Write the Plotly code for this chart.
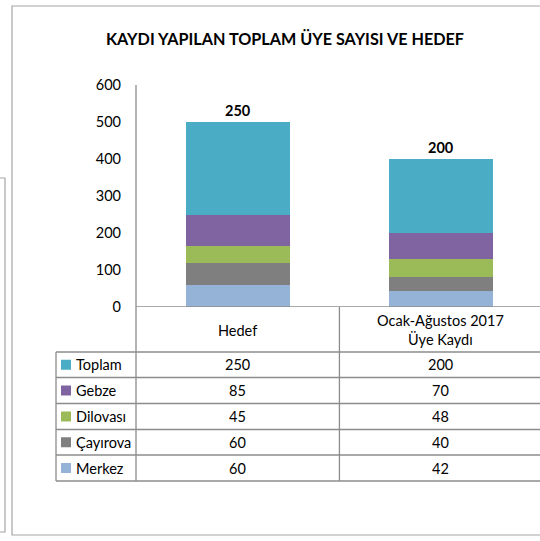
import plotly.graph_objects as go

categories = ["Hedef", "Ocak-Ağustos 2017 Üye Kaydı"]
category_labels = ["Hedef", "Ocak-Ağustos 2017<br>Üye Kaydı"]
series_names = ["Merkez", "Çayırova", "Dilovası", "Gebze", "Toplam"]
merkez = [60, 42]
cayirova = [60, 40]
dilovasi = [45, 48]
gebze = [85, 70]
toplam = [250, 200]
title_text = "KAYDI YAPILAN TOPLAM ÜYE SAYISI VE HEDEF"
y_ticks = [0, 100, 200, 300, 400, 500, 600]

series_values = [merkez, cayirova, dilovasi, gebze, toplam]
colors = ["#95B3D7", "#7F7F7F", "#9BBB59", "#8064A2", "#4BACC6"]

W, H = 540, 541
FONT = "Lato"
TXT = 14.5


def px(x):
    return x / W


def py(y):
    return 1 - y / H


fig = go.Figure()
for name, vals, col in zip(series_names, series_values, colors):
    is_top = name == "Toplam"
    fig.add_trace(go.Bar(
        x=categories, y=vals, name=name, marker=dict(color=col, line=dict(width=0)),
        width=0.51,
        text=vals if is_top else None,
        texttemplate="<b>%{y}</b>" if is_top else None,
        textposition="outside" if is_top else "none",
        textfont=dict(family=FONT, size=14.5, color="#000000"),
        cliponaxis=False,
        showlegend=False,
    ))

grid = "#8C8C8C"
frame = "#A6A6A6"
shapes = []
# outer frame of chart
shapes.append(dict(type="rect", xref="paper", yref="paper", x0=px(12), x1=px(560),
                   y0=py(535), y1=py(6), line=dict(color=frame, width=1.2)))
# frame of a chart behind
shapes.append(dict(type="path", xref="paper", yref="paper",
                   path=f"M {px(-5)} {py(178)} L {px(5)} {py(178)} L {px(5)} {py(532)} L {px(-5)} {py(532)}",
                   line=dict(color=frame, width=1.2)))

# table lines
row_lines = [352, 377.5, 403.5, 429.5, 455, 481]
for i, yl in enumerate(row_lines):
    shapes.append(dict(type="line", xref="paper", yref="paper", x0=px(56), x1=px(545),
                       y0=py(yl), y1=py(yl), line=dict(color=grid, width=1.3)))
# table left edge
shapes.append(dict(type="line", xref="paper", yref="paper", x0=px(56), x1=px(56),
                   y0=py(352), y1=py(481), line=dict(color=grid, width=1.3)))
# vertical line continuing the axis
shapes.append(dict(type="line", xref="paper", yref="paper", x0=px(136), x1=px(136),
                   y0=py(85), y1=py(481), line=dict(color=grid, width=1.3)))
# divider between categories
shapes.append(dict(type="line", xref="x", yref="paper", x0=0.5, x1=0.5,
                   y0=py(307), y1=py(481), line=dict(color=grid, width=1.3)))

annotations = []
annotations.append(dict(text=f"<b>{title_text}</b>", xref="paper", yref="paper",
                        x=px(285), y=py(38), showarrow=False,
                        font=dict(family=FONT, size=16.2, color="#000000"),
                        xanchor="center", yanchor="middle"))
for c, lab in zip(categories, category_labels):
    annotations.append(dict(text=lab, xref="x", yref="paper", x=c, y=py(330),
                            showarrow=False, font=dict(family=FONT, size=TXT, color="#000000"),
                            xanchor="center", yanchor="middle"))

row_order = ["Toplam", "Gebze", "Dilovası", "Çayırova", "Merkez"]
row_centers = [(row_lines[i] + row_lines[i + 1]) / 2 for i in range(5)]
for rname, yc in zip(row_order, row_centers):
    idx = series_names.index(rname)
    shapes.append(dict(type="rect", xref="paper", yref="paper", x0=px(61), x1=px(71),
                       y0=py(yc + 5), y1=py(yc - 5), fillcolor=colors[idx],
                       line=dict(width=0)))
    annotations.append(dict(text=rname, xref="paper", yref="paper", x=px(74), y=py(yc),
                            showarrow=False, font=dict(family=FONT, size=TXT, color="#000000"),
                            xanchor="left", yanchor="middle"))
    for ci, c in enumerate(categories):
        annotations.append(dict(text=str(series_values[idx][ci]), xref="x", yref="paper",
                                x=c, y=py(yc), showarrow=False,
                                font=dict(family=FONT, size=TXT, color="#000000"),
                                xanchor="center", yanchor="middle"))

fig.update_layout(
    width=W, height=H,
    margin=dict(l=0, r=0, t=0, b=0, autoexpand=False),
    paper_bgcolor="white", plot_bgcolor="white",
    barmode="stack",
    showlegend=False,
    shapes=shapes,
    annotations=annotations,
    xaxis=dict(domain=[px(136), 1], range=[-0.502, 1.488], showticklabels=False,
               showgrid=False, zeroline=False, showline=False, ticks="", automargin=False),
    yaxis=dict(domain=[py(307), py(85)], range=[0, 600], tickvals=y_ticks,
               showgrid=False, zeroline=False, showline=False, ticks="", automargin=False,
               ticklabelstandoff=14,
               tickfont=dict(family=FONT, size=14.5, color="#000000")),
)
# x axis baseline
fig.add_shape(type="line", xref="paper", yref="y", x0=px(136), x1=px(545), y0=0, y1=0,
              line=dict(color=grid, width=1.3))

fig.write_html("out.html",
               config={"displayModeBar": False},
               post_script="document.body.style.margin='0';document.body.style.overflow='hidden';")
